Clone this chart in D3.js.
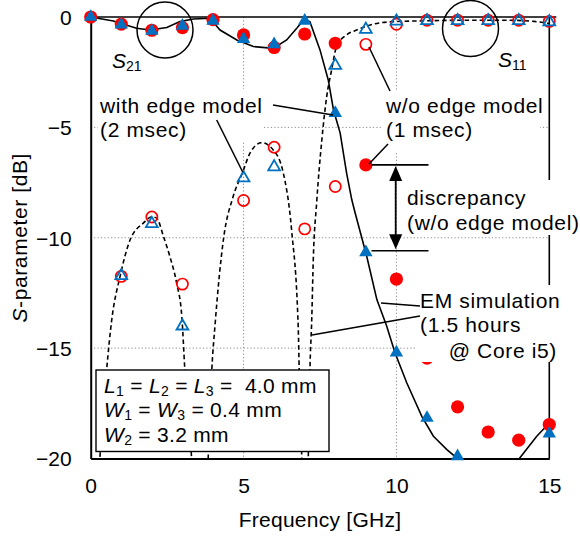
<!DOCTYPE html>
<html><head><meta charset="utf-8">
<script src="https://cdn.jsdelivr.net/npm/d3@7"></script>
<style>
body{margin:0;background:#fff}
svg text{font-family:"Liberation Sans",Arial,sans-serif;fill:#000;white-space:pre}
</style>
</head><body><svg id="c" width="580" height="538"></svg>
<script>
// ---------------- data ----------------
const freq = [0,1,2,3,4,5,6,7,8,9,10,11,12,13,14,15];          // GHz
// S21 markers (filled)
const s21WithEdge = [0,-0.35,-0.63,-0.40,-0.17,-1.00,-1.24,-0.17,-4.35,-10.66,-15.20,-18.16,-19.90,null,null,-18.87];
const s21NoEdge   = [0,-0.32,-0.60,-0.48,-0.12,-0.81,-1.38,-0.77,-1.19,-6.70,-11.87,-15.45,-17.66,-18.80,-19.17,-18.46];
// S11 markers (open)
const s11WithEdge = [null,-11.70,-9.34,-13.98,null,-7.27,-6.77,null,-2.17,-0.54,-0.17,-0.15,-0.15,-0.15,-0.15,-0.20];
const s11NoEdge   = [null,-11.75,-9.06,-12.10,null,-8.31,-5.90,-9.60,-7.68,-1.24,-0.33,-0.15,-0.15,-0.15,-0.15,-0.20];
// EM simulation S21 (solid)
const emS21Freq = [0,0.74,1.5,1.94,2.49,2.92,3.36,3.9,4.23,4.78,5.32,5.97,6.41,6.74,6.96,7.17,7.5,7.77,7.94,8.16,8.37,8.54,8.65,9.03,9.36,9.68,9.95,10.34,10.83,11.21,11.65,11.97,12.5,13.5,14.04,14.59,15.0];
const emS21dB   = [0,-0.18,-0.51,-0.59,-0.48,-0.21,-0.09,-0.06,-0.59,-1.04,-1.34,-1.42,-1.04,-0.51,-0.14,-0.21,-1.49,-2.85,-4.2,-5.26,-7.07,-8.28,-8.88,-10.85,-12.8,-14.0,-15.2,-16.58,-18.09,-18.99,-19.6,-19.97,-21,-21,-19.97,-18.99,-18.39];
// EM simulation S11 (dashed)
const emS11Freq = [0.15,0.3,0.52,0.69,0.96,1.29,1.72,2.0,2.16,2.38,2.59,2.81,2.98,3.08,3.3,3.5,
                   3.7,3.85,3.96,4.07,4.34,4.66,4.96,5.21,5.59,5.97,6.3,6.57,6.79,6.82,6.9,6.98,
                   7.05,7.12,7.17,7.23,7.28,7.39,7.56,7.72,7.88,8.04,8.37,8.7,9.14,9.9,11,12,13,13.7,14.5,15];
const emS11dB   = [-24,-20,-16,-13.7,-11.75,-10.09,-9.34,-9.05,-9.11,-9.94,-10.85,-12.05,-13.56,-16,-20,-26,
                   -26,-19.7,-16,-13.9,-10.09,-8.13,-7.07,-6.17,-5.69,-6.02,-7.07,-9.64,-14.16,-16,-19.7,-26,
                   -26,-19.7,-16,-13.7,-11,-8.43,-5.57,-3.6,-2.4,-1.35,-0.81,-0.59,-0.36,-0.21,-0.17,-0.15,-0.15,-0.15,-0.2,-0.3];
const xTicks = [0,5,10,15];
const yTicks = [0,-5,-10,-15,-20];
const xGrid = [5,10];
const yGrid = [-5,-10,-15];

// ---------------- drawing ----------------
const svg = d3.select('#c');
svg.append('rect').attr('width',580).attr('height',538).attr('fill','#fff');
const x = d3.scaleLinear().domain([0,15]).range([90.7,549.3]);
const y = d3.scaleLinear().domain([-20,0]).range([458.5,17]);
const RED='#ff0000', BLUE='#0070c0';
const FS=21;

svg.append('clipPath').attr('id','clip').append('rect')
  .attr('x',x(0)).attr('y',y(0)-1).attr('width',x(15)-x(0)).attr('height',y(-20)-y(0)+1);

// grid
svg.append('g').selectAll('line').data(xGrid).join('line')
  .attr('x1',d=>x(d)).attr('x2',d=>x(d)).attr('y1',y(0)).attr('y2',y(-20))
  .attr('stroke','#8c8c8c').attr('stroke-width',1).attr('stroke-dasharray','1.2,2.2');
svg.append('g').selectAll('line').data(yGrid).join('line')
  .attr('x1',x(0)).attr('x2',x(15)).attr('y1',d=>y(d)).attr('y2',d=>y(d))
  .attr('stroke','#8c8c8c').attr('stroke-width',1).attr('stroke-dasharray','1.2,2.2');

// frame
svg.append('line').attr('x1',x(0)-3).attr('x2',x(15)+7).attr('y1',y(0)).attr('y2',y(0)).attr('stroke','#000').attr('stroke-width',1.6);
svg.append('line').attr('x1',x(15)).attr('x2',x(15)).attr('y1',y(0)).attr('y2',y(-20)).attr('stroke','#000').attr('stroke-width',1.6);

// axes
const xAxis = d3.axisBottom(x).tickValues(xTicks).tickSize(0).tickPadding(20).tickFormat(d=>String(d));
const gx = svg.append('g').attr('transform',`translate(0,${y(-20)})`).call(xAxis);
gx.select('.domain').attr('stroke','#000').attr('stroke-width',2);
gx.selectAll('text').attr('font-size',FS).attr('font-family','Liberation Sans, Arial, sans-serif');
const yAxis = d3.axisLeft(y).tickValues(yTicks).tickSize(0).tickPadding(19).tickFormat(d3.format('d'));
const gy = svg.append('g').attr('transform',`translate(${x(0)},0)`).call(yAxis);
gy.select('.domain').attr('stroke','#000').attr('stroke-width',2);
gy.selectAll('text').attr('font-size',FS).attr('dy','0.35em').attr('font-family','Liberation Sans, Arial, sans-serif');

// curves
const plot = svg.append('g').attr('clip-path','url(#clip)');
const s11Pts = emS11Freq.map((f,i)=>[f,emS11dB[i]]);
const s21Pts = emS21Freq.map((f,i)=>[f,emS21dB[i]]);
plot.append('path').datum(s11Pts)
  .attr('d',d3.line().x(d=>x(d[0])).y(d=>y(d[1])).curve(d3.curveMonotoneX))
  .attr('fill','none').attr('stroke','#000').attr('stroke-width',1.6).attr('stroke-dasharray','4.5,3');
plot.append('path').datum(s21Pts)
  .attr('d',d3.line().x(d=>x(d[0])).y(d=>y(d[1])))
  .attr('fill','none').attr('stroke','#000').attr('stroke-width',1.6);

// markers
const triSym = d3.symbol().type(d3.symbolTriangle).size(78);
const triSymO = d3.symbol().type(d3.symbolTriangle).size(60);
function pts(arr){return freq.map((f,i)=>({f,v:arr[i]})).filter(d=>d.v!==null);}
svg.append('g').selectAll('circle').data(pts(s11NoEdge)).join('circle')
  .attr('cx',d=>x(d.f)).attr('cy',d=>y(d.v)).attr('r',5.6)
  .attr('fill','none').attr('stroke',RED).attr('stroke-width',1.7);
svg.append('g').selectAll('path').data(pts(s11WithEdge)).join('path')
  .attr('d',triSymO).attr('transform',d=>`translate(${x(d.f)},${y(d.v)+0.5})`)
  .attr('fill','none').attr('stroke',BLUE).attr('stroke-width',1.8);
svg.append('g').selectAll('circle').data(pts(s21NoEdge)).join('circle')
  .attr('cx',d=>x(d.f)).attr('cy',d=>y(d.v)).attr('r',6.6).attr('fill',RED);
svg.append('g').selectAll('path').data(pts(s21WithEdge)).join('path')
  .attr('d',triSym).attr('transform',d=>`translate(${x(d.f)},${y(d.v)})`).attr('fill',BLUE);

// label background boxes
const boxes = [[98,89,166,53],[383,91,157,62],[402,180,178,55],[416,285,146,77]];
svg.append('g').selectAll('rect').data(boxes).join('rect')
  .attr('x',d=>d[0]).attr('y',d=>d[1]).attr('width',d=>d[2]).attr('height',d=>d[3]).attr('fill','#fff');

// circles for S21/S11 groups
svg.append('circle').attr('cx',165).attr('cy',30).attr('r',28).attr('fill','none').attr('stroke','#000').attr('stroke-width',1.5);
svg.append('circle').attr('cx',470.5).attr('cy',28.5).attr('r',28).attr('fill','none').attr('stroke','#000').attr('stroke-width',1.5);

function txt(xp,yp,s,opts={}){
  const t=svg.append('text').attr('x',xp).attr('y',yp).attr('font-size',opts.fs||FS)
    .attr('letter-spacing',opts.ls!==undefined?opts.ls:0.65);
  if(opts.anchor) t.attr('text-anchor',opts.anchor);
  t.text(s); return t;
}
function sLabel(xp,yp,sub){
  const t=svg.append('text').attr('x',xp).attr('y',yp).attr('font-size',FS);
  t.append('tspan').attr('font-style','italic').text('S');
  t.append('tspan').attr('font-size',14).attr('dy',3).text(sub);
}
sLabel(112,68,'21');
sLabel(498,67,'11');

// pointer lines
const lines = [[216.7,120,242.7,172],[273,105,333,115],[390,91,369,47],[388,144,369,164],
               [420,306,381,303],[420,316,312,335]];
svg.append('g').selectAll('line').data(lines).join('line')
  .attr('x1',d=>d[0]).attr('y1',d=>d[1]).attr('x2',d=>d[2]).attr('y2',d=>d[3])
  .attr('stroke','#000').attr('stroke-width',1.5);

// discrepancy markers
svg.append('line').attr('x1',371.5).attr('x2',428.5).attr('y1',y(s21NoEdge[9])).attr('y2',y(s21NoEdge[9])).attr('stroke','#000').attr('stroke-width',1.6);
svg.append('line').attr('x1',371.5).attr('x2',428.5).attr('y1',y(s21WithEdge[9])-1.5).attr('y2',y(s21WithEdge[9])-1.5).attr('stroke','#000').attr('stroke-width',1.6);
const ax=395.7, ay1=y(s21NoEdge[9])+1, ay2=y(s21WithEdge[9])-3;
svg.append('line').attr('x1',ax).attr('x2',ax).attr('y1',ay1+10).attr('y2',ay2-10).attr('stroke','#000').attr('stroke-width',1.8);
svg.append('path').attr('d',`M${ax},${ay1} L${ax-6.5},${ay1+15} L${ax+6.5},${ay1+15}Z`).attr('fill','#000');
svg.append('path').attr('d',`M${ax},${ay2} L${ax-6.5},${ay2-15} L${ax+6.5},${ay2-15}Z`).attr('fill','#000');

// texts
txt(100,113,'with edge model');
txt(100,137,'(2 msec)');
txt(386,113,'w/o edge model');
txt(386,137,'(1 msec)');
txt(407,205,'discrepancy');
txt(407,230,'(w/o edge model)');
txt(420,308,'EM simulation');
txt(420,332,'(1.5 hours');
txt(557,358,'@ Core i5)',{anchor:'end'});

// parameter box
svg.append('rect').attr('x',96).attr('y',370).attr('width',233).attr('height',81.5)
  .attr('fill','#fff').attr('stroke','#000').attr('stroke-width',1.4);
function paramLine(yp,parts){
  const t=svg.append('text').attr('x',104).attr('y',yp).attr('font-size',FS).attr('letter-spacing',0.3);
  parts.forEach(p=>{
    if(p[0]==='i') t.append('tspan').attr('font-style','italic').text(p[1]);
    else if(p[0]==='s') t.append('tspan').attr('font-size',14).attr('dy',3).text(p[1]);
    else t.append('tspan').attr('dy',p[2]||0).text(p[1]);
  });
}
paramLine(393,[['i','L'],['s','1'],['n',' = ',-3],['i','L'],['s','2'],['n',' = ',-3],['i','L'],['s','3'],['n',' =  4.0 mm',-3]]);
paramLine(417,[['i','W'],['s','1'],['n',' = ',-3],['i','W'],['s','3'],['n',' = 0.4 mm',-3]]);
paramLine(442,[['i','W'],['s','2'],['n',' = 3.2 mm',-3]]);

// axis titles
txt(320,527,'Frequency [GHz]',{anchor:'middle',ls:0.25});
const yt=svg.append('text').attr('transform',`translate(27,${(y(0)+y(-20))/2}) rotate(-90)`)
  .attr('text-anchor','middle').attr('font-size',FS).attr('letter-spacing',0.6);
yt.append('tspan').attr('font-style','italic').text('S');
yt.append('tspan').text('-parameter [dB]');
</script></body></html>
